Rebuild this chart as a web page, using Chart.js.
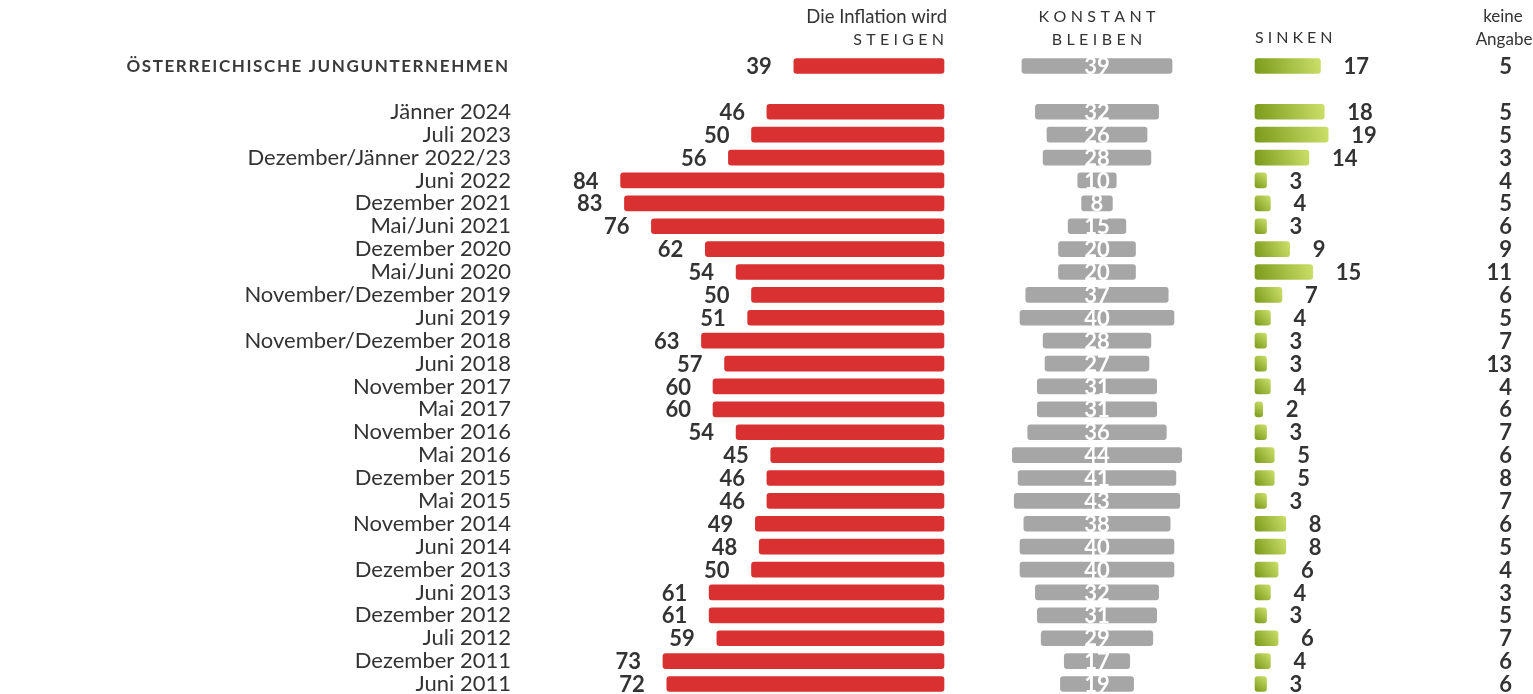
<!DOCTYPE html>
<html>
<head>
<meta charset="utf-8">
<script src="https://cdn.jsdelivr.net/npm/chart.js@4.4.1/dist/chart.umd.min.js"></script>
<style>
  html, body { margin: 0; padding: 0; background: #ffffff; }
  #wrap { position: relative; width: 1533px; height: 694px; }
  canvas { display: block; }
</style>
</head>
<body>
<div id="wrap"><canvas id="c" width="1533" height="694"></canvas></div>
<script>
// ---------------- DATA ----------------
const CATEGORIES = [
  "ÖSTERREICHISCHE JUNGUNTERNEHMEN",
  "",
  "Jänner 2024",
  "Juli 2023",
  "Dezember/Jänner 2022/23",
  "Juni 2022",
  "Dezember 2021",
  "Mai/Juni 2021",
  "Dezember 2020",
  "Mai/Juni 2020",
  "November/Dezember 2019",
  "Juni 2019",
  "November/Dezember 2018",
  "Juni 2018",
  "November 2017",
  "Mai 2017",
  "November 2016",
  "Mai 2016",
  "Dezember 2015",
  "Mai 2015",
  "November 2014",
  "Juni 2014",
  "Dezember 2013",
  "Juni 2013",
  "Dezember 2012",
  "Juli 2012",
  "Dezember 2011",
  "Juni 2011"
];
const STEIGEN      = [39, null, 46, 50, 56, 84, 83, 76, 62, 54, 50, 51, 63, 57, 60, 60, 54, 45, 46, 46, 49, 48, 50, 61, 61, 59, 73, 72];
const KONSTANT     = [39, null, 32, 26, 28, 10,  8, 15, 20, 20, 37, 40, 28, 27, 31, 31, 36, 44, 41, 43, 38, 40, 40, 32, 31, 29, 17, 19];
const SINKEN       = [17, null, 18, 19, 14,  3,  4,  3,  9, 15,  7,  4,  3,  3,  4,  2,  3,  5,  5,  3,  8,  8,  6,  4,  3,  6,  4,  3];
const KEINE_ANGABE = [ 5, null,  5,  5,  3,  4,  5,  6,  9, 11,  6,  5,  7, 13,  4,  6,  7,  6,  8,  7,  6,  5,  4,  3,  5,  7,  6,  6];

const TITLE_STEIGEN  = ["Die Inflation wird", "STEIGEN"];
const TITLE_KONSTANT = ["KONSTANT", "BLEIBEN"];
const TITLE_SINKEN   = ["SINKEN"];
const TITLE_KEINE    = ["keine", "Angabe"];

// ---------------- LAYOUT / STYLE ----------------
const PX_PER_UNIT = 3.85;
const AREA_LEFT = 520, RED_ZERO = 944, GREY_CENTER = 1097, GREEN_ZERO = 1255, AREA_RIGHT = 1512;
const RED_W = RED_ZERO - AREA_LEFT;
const GREY_W = GREEN_ZERO - RED_ZERO;
const GREEN_W = AREA_RIGHT - GREEN_ZERO;

const TEXT = '#333333';
const RED = '#d93131';
const GREY = '#a6a6a6';
const GREEN_DARK = '#7b9a1b';
const GREEN_LIGHT = '#cbdf69';
const FONT = 'Lato, "Open Sans", sans-serif';
const BAR_H = 15;

function drawSpaced(ctx, text, x, y, spacing, align) {
  const chars = [...text];
  const widths = chars.map(ch => ctx.measureText(ch).width);
  const total = widths.reduce((a, b) => a + b, 0) + spacing * (chars.length - 1);
  let start = align === 'right' ? x - total : (align === 'center' ? x - total / 2 : x);
  ctx.textAlign = 'left';
  chars.forEach((ch, i) => { ctx.fillText(ch, start, y); start += widths[i] + spacing; });
}

const labelPlugin = {
  id: 'valueLabels',
  afterDatasetsDraw(chart) {
    const ctx = chart.ctx;
    const ys = chart.scales.y;
    const redMeta = chart.getDatasetMeta(0);
    const greyMeta = chart.getDatasetMeta(1);
    const greenMeta = chart.getDatasetMeta(2);
    ctx.save();
    ctx.textBaseline = 'middle';
    ctx.font = 'bold 22px ' + FONT;
    CATEGORIES.forEach((c, i) => {
      const y = ys.getPixelForValue(i) + 1;
      if (STEIGEN[i] != null) {
        const el = redMeta.data[i];
        ctx.fillStyle = TEXT; ctx.textAlign = 'right';
        ctx.fillText(String(STEIGEN[i]), el.x - 22, y);
      }
      if (KONSTANT[i] != null) {
        const el = greyMeta.data[i];
        ctx.fillStyle = '#ffffff'; ctx.textAlign = 'center';
        ctx.fillText(String(KONSTANT[i]), (el.x + el.base) / 2, y);
      }
      if (SINKEN[i] != null) {
        const el = greenMeta.data[i];
        ctx.fillStyle = TEXT; ctx.textAlign = 'left';
        ctx.fillText(String(SINKEN[i]), el.x + 23, y);
      }
      if (KEINE_ANGABE[i] != null) {
        ctx.fillStyle = TEXT; ctx.textAlign = 'right';
        ctx.fillText(String(KEINE_ANGABE[i]), chart.chartArea.right, y);
      }
    });
    ctx.restore();
  },
  afterDraw(chart) {
    const ctx = chart.ctx;
    const ys = chart.scales.y;
    const redRight = chart.scales.xRed.getPixelForValue(0);
    const greyMid = chart.scales.xGrey.getPixelForValue(0);
    const greenLeft = chart.scales.xGreen.getPixelForValue(0);
    const right = chart.chartArea.right;
    ctx.save();
    ctx.textBaseline = 'middle';
    // group row label
    ctx.font = 'bold 17px ' + FONT;
    ctx.fillStyle = '#3a3a3a';
    drawSpaced(ctx, CATEGORIES[0], chart.chartArea.left - 12, ys.getPixelForValue(0) + 1, 1.6, 'right');
    // column titles
    ctx.fillStyle = TEXT;
    ctx.font = '18.5px ' + FONT;
    ctx.textAlign = 'right';
    ctx.fillText(TITLE_STEIGEN[0], redRight + 3, 17);
    ctx.font = '16px ' + FONT;
    drawSpaced(ctx, TITLE_STEIGEN[1], redRight, 40, 4.3, 'right');
    drawSpaced(ctx, TITLE_KONSTANT[0], greyMid, 17, 4.4, 'center');
    drawSpaced(ctx, TITLE_KONSTANT[1], greyMid, 40, 4.4, 'center');
    drawSpaced(ctx, TITLE_SINKEN[0], greenLeft, 38, 4, 'left');
    ctx.font = '17px ' + FONT;
    ctx.textAlign = 'center';
    ctx.fillText(TITLE_KEINE[0], right - 9, 17);
    ctx.fillText(TITLE_KEINE[1], right - 8, 40);
    ctx.restore();
  }
};

function greenGradient(c) {
  const chart = c.chart;
  const v = c.raw;
  if (v == null || !chart.chartArea || !chart.scales.xGreen) return GREEN_DARK;
  const xs = chart.scales.xGreen, ys = chart.scales.y;
  const x0 = xs.getPixelForValue(0), x1 = xs.getPixelForValue(v);
  const yc = ys.getPixelForValue(c.dataIndex);
  const g = chart.ctx.createLinearGradient(x0, yc + BAR_H / 2, x1, yc - BAR_H / 2);
  g.addColorStop(0, GREEN_DARK);
  g.addColorStop(1, GREEN_LIGHT);
  return g;
}

const hiddenAxis = (extra) => Object.assign({
  type: 'linear', position: 'bottom', display: false, stack: 'columns',
  grid: { display: false }, border: { display: false }
}, extra);

new Chart(document.getElementById('c'), {
  type: 'bar',
  data: {
    labels: CATEGORIES,
    datasets: [
      { label: 'steigen', data: STEIGEN, xAxisID: 'xRed', yAxisID: 'y',
        backgroundColor: RED },
      { label: 'konstant bleiben', data: KONSTANT.map(v => v == null ? null : [-v / 2, v / 2]),
        xAxisID: 'xGrey', yAxisID: 'y', backgroundColor: GREY },
      { label: 'sinken', data: SINKEN, xAxisID: 'xGreen', yAxisID: 'y',
        backgroundColor: greenGradient }
    ]
  },
  options: {
    responsive: false,
    animation: false,
    indexAxis: 'y',
    layout: { padding: { top: 66, bottom: 10, left: 0, right: 1533 - AREA_RIGHT } },
    datasets: { bar: { grouped: false, barThickness: BAR_H, borderRadius: 3, borderSkipped: false, clip: false } },
    plugins: { legend: { display: false }, tooltip: { enabled: false }, title: { display: false } },
    scales: {
      y: {
        type: 'category', offset: false,
        grid: { display: false, drawTicks: false }, border: { display: false },
        ticks: {
          autoSkip: false, padding: 9, color: TEXT,
          font: { family: FONT, size: 22, lineHeight: 1 },
          callback: (v, i) => (i === 0 ? '' : CATEGORIES[i])
        },
        afterFit: (s) => { s.width = AREA_LEFT; s.paddingTop = 0; s.paddingBottom = 0; }
      },
      xRed: hiddenAxis({ reverse: true, min: 0, max: RED_W / PX_PER_UNIT, stackWeight: RED_W }),
      xGrey: hiddenAxis({ min: -(GREY_CENTER - RED_ZERO) / PX_PER_UNIT, max: (GREEN_ZERO - GREY_CENTER) / PX_PER_UNIT, stackWeight: GREY_W }),
      xGreen: hiddenAxis({ min: 0, max: GREEN_W / PX_PER_UNIT, stackWeight: GREEN_W })
    }
  },
  plugins: [labelPlugin]
});
</script>
</body>
</html>
